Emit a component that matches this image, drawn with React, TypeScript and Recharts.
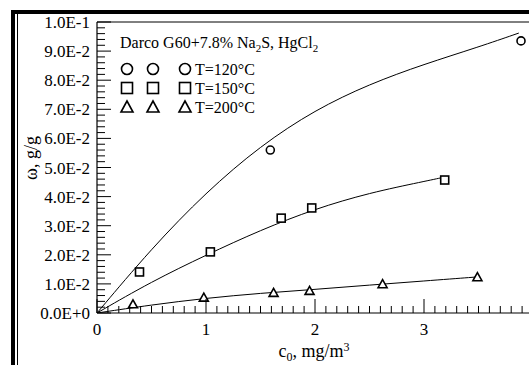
import { ComposedChart, Line, Scatter, XAxis, YAxis, ReferenceLine, Legend } from "recharts";

// measured points
const pts120 = [
  { x: 1.59, y: 0.056 },
  { x: 3.89, y: 0.0935 },
];
const pts150 = [
  { x: 0.39, y: 0.0141 },
  { x: 1.04, y: 0.021 },
  { x: 1.69, y: 0.0326 },
  { x: 1.97, y: 0.0361 },
  { x: 3.19, y: 0.0457 },
];
const pts200 = [
  { x: 0.33, y: 0.003 },
  { x: 0.98, y: 0.0053 },
  { x: 1.62, y: 0.0069 },
  { x: 1.95, y: 0.0076 },
  { x: 2.62, y: 0.0099 },
  { x: 3.49, y: 0.0123 },
];

// fitted curves
const fit120 = [
  { x: 0, y: 0 },
  { x: 0.5, y: 0.0222 },
  { x: 1.0, y: 0.0415 },
  { x: 1.5, y: 0.0575 },
  { x: 2.0, y: 0.0698 },
  { x: 2.5, y: 0.0787 },
  { x: 3.0, y: 0.0855 },
  { x: 3.5, y: 0.0914 },
  { x: 3.87, y: 0.0962 },
];
const fit150 = [
  { x: 0, y: 0 },
  { x: 0.5, y: 0.0108 },
  { x: 1.0, y: 0.0199 },
  { x: 1.5, y: 0.0285 },
  { x: 2.0, y: 0.0358 },
  { x: 2.5, y: 0.0413 },
  { x: 3.0, y: 0.0452 },
  { x: 3.2, y: 0.0468 },
];
const fit200 = [
  { x: 0, y: 0 },
  { x: 0.5, y: 0.0028 },
  { x: 1.0, y: 0.0051 },
  { x: 1.5, y: 0.0068 },
  { x: 2.0, y: 0.0081 },
  { x: 2.5, y: 0.0096 },
  { x: 3.0, y: 0.011 },
  { x: 3.49, y: 0.0124 },
];

const legendRows = [
  { name: "T=120°C", shape: "circle" },
  { name: "T=150°C", shape: "square" },
  { name: "T=200°C", shape: "triangle" },
];

const xLabels = [0, 1, 2, 3];
const X_DOMAIN = [0, 4];
const Y_DOMAIN = [0, 0.1];
const X_STEP = 0.1;
const Y_STEP = 0.002;
const xTicks = Array.from({ length: 41 }, (_, i) => +(i * X_STEP).toFixed(2));
const yTicks = Array.from({ length: 51 }, (_, i) => +(i * Y_STEP).toFixed(4));

const FONT = "'Liberation Serif', 'DejaVu Serif', 'Times New Roman', serif";

const Marker = ({ shape, cx, cy, s }: any) => {
  if (cx == null || cy == null) return null;
  const h = s / 2;
  if (shape === "circle")
    return <circle cx={cx} cy={cy} r={h} fill="#fff" stroke="#000" strokeWidth={1.6} />;
  if (shape === "square")
    return <rect x={cx - h} y={cy - h} width={s} height={s} fill="#fff" stroke="#000" strokeWidth={1.6} />;
  return (
    <polygon
      points={`${cx},${cy - h - 0.5} ${cx - h - 0.5},${cy + h - 0.5} ${cx + h + 0.5},${cy + h - 0.5}`}
      fill="#fff"
      stroke="#000"
      strokeWidth={1.6}
    />
  );
};

const XTick = (props: any) => {
  const { x, y, payload } = props;
  const v = payload.value;
  const major = Math.abs(v - Math.round(v)) < 1e-6;
  return (
    <g>
      <line x1={x} x2={x} y1={y} y2={y - (major ? 14 : 7)} stroke="#000" strokeWidth={1} />
      {major && xLabels.includes(Math.round(v)) && (
        <text x={x} y={y + 22} textAnchor="middle" fontFamily={FONT} fontSize={17} fill="#000">
          {Math.round(v)}
        </text>
      )}
    </g>
  );
};

const YTick = (props: any) => {
  const { x, y, payload } = props;
  const v = payload.value;
  const major = Math.round(v * 1000) % 10 === 0;
  return (
    <g>
      <line x1={x} x2={x + (major ? 14 : 8)} y1={y} y2={y} stroke="#000" strokeWidth={1} />
      {major && (
        <text x={x - 7} y={y + 6} textAnchor="end" fontFamily={FONT} fontSize={17} fill="#000">
          {(Math.round(v * 100) / 100).toExponential(1).toUpperCase()}
        </text>
      )}
    </g>
  );
};

const LegendBox = () => (
  <svg width={230} height={90} style={{ overflow: "visible" }}>
    <text x={10} y={18} fontFamily={FONT} fontSize={16} fill="#000">
      Darco G60+7.8% Na<tspan dy={4} fontSize={11}>2</tspan>
      <tspan dy={-4}>S, HgCl</tspan>
      <tspan dy={4} fontSize={11}>2</tspan>
    </text>
    {legendRows.map((r, i) => {
      const cy = 39 + i * 19;
      return (
        <g key={r.name}>
          {[17, 43, 75].map((cx) => (
            <Marker key={cx} shape={r.shape} cx={cx} cy={cy} s={11} />
          ))}
          <text x={85} y={cy + 5.5} fontFamily={FONT} fontSize={16} fill="#000">
            {r.name}
          </text>
        </g>
      );
    })}
  </svg>
);

export default function App() {
  return (
    <div style={{ position: "absolute", left: 0, top: 0, width: 529, height: 365, overflow: "hidden", background: "#fff" }}>
      <ComposedChart width={560} height={365} margin={{ top: 22, right: 27, bottom: 12, left: 17 }}>
        <XAxis
          dataKey="x"
          type="number"
          domain={X_DOMAIN}
          ticks={xTicks}
          interval={0}
          allowDataOverflow
          height={40}
          tickSize={0}
          tickMargin={0}
          tickLine={false}
          axisLine={{ stroke: "#000", strokeWidth: 1.2 }}
          tick={<XTick />}
        />
        <YAxis
          type="number"
          domain={Y_DOMAIN}
          ticks={yTicks}
          interval={0}
          allowDataOverflow
          width={80}
          tickSize={0}
          tickMargin={0}
          tickLine={false}
          axisLine={{ stroke: "#000", strokeWidth: 1.2 }}
          tick={<YTick />}
        />
        <ReferenceLine y={0.1} stroke="#000" strokeWidth={1} />
        <Line data={fit120} dataKey="y" name="fit120" type="basis" dot={false} stroke="#000" strokeWidth={1} isAnimationActive={false} legendType="none" />
        <Line data={fit150} dataKey="y" name="fit150" type="basis" dot={false} stroke="#000" strokeWidth={1} isAnimationActive={false} legendType="none" />
        <Line data={fit200} dataKey="y" name="fit200" type="basis" dot={false} stroke="#000" strokeWidth={1} isAnimationActive={false} legendType="none" />
        <Scatter data={pts120} dataKey="y" name="T=120°C" isAnimationActive={false} shape={(p: any) => <Marker shape="circle" cx={p.cx} cy={p.cy} s={8} />} />
        <Scatter data={pts150} dataKey="y" name="T=150°C" isAnimationActive={false} shape={(p: any) => <Marker shape="square" cx={p.cx} cy={p.cy} s={8} />} />
        <Scatter data={pts200} dataKey="y" name="T=200°C" isAnimationActive={false} shape={(p: any) => <Marker shape="triangle" cx={p.cx} cy={p.cy} s={8} />} />
        <Legend
          layout="horizontal"
          verticalAlign="middle"
          align="center"
          wrapperStyle={{ left: 110, top: 30, width: 230, height: 90 }}
          content={() => <LegendBox />}
        />
      </ComposedChart>
      <svg width={529} height={365} style={{ position: "absolute", left: 0, top: 0, pointerEvents: "none" }}>
        <line x1={11} x2={529} y1={12} y2={12} stroke="#000" strokeWidth={4} />
        <line x1={13} x2={13} y1={10} y2={365} stroke="#000" strokeWidth={4} />
        <line x1={17.5} x2={17.5} y1={14} y2={365} stroke="#000" strokeWidth={1} />
        <text x={314} y={357} textAnchor="middle" fontFamily={FONT} fontSize={18} fill="#000">
          c<tspan dy={4} fontSize={12}>0</tspan>
          <tspan dy={-4}>, mg/m</tspan>
          <tspan dy={-6} fontSize={12}>3</tspan>
        </text>
        <text x={37} y={158} transform="rotate(-90 37 158)" textAnchor="middle" fontFamily={FONT} fontSize={18} fill="#000">
          ω, g/g
        </text>
      </svg>
    </div>
  );
}
